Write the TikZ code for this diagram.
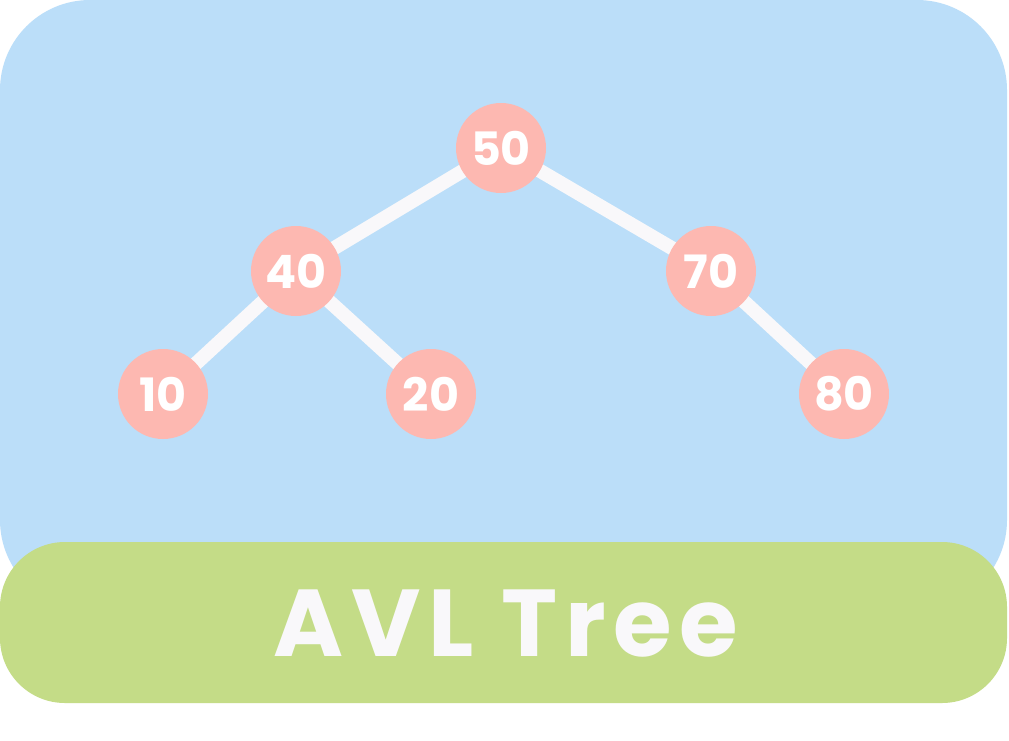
\documentclass[tikz,border=0pt]{standalone}
\usepackage{fontspec}
\setmainfont{Poppins}
\definecolor{bgblue}{HTML}{BBDEF9}
\definecolor{bggreen}{HTML}{C4DC87}
\definecolor{nodepink}{HTML}{FDB8B1}
\definecolor{offwhite}{HTML}{F9F8FA}
\pgfdeclarelayer{edgelayer}
\pgfdeclarelayer{bglayer}
\pgfsetlayers{bglayer,edgelayer,main}
\tikzset{
  treenode/.style={circle, fill=nodepink, minimum size=90pt, inner sep=0pt, text=white, font=\fontsize{46}{46}\selectfont\bfseries},
  treeedge/.style={draw=offwhite, line width=14pt},
}
\begin{document}
\begin{tikzpicture}[x=1pt,y=-1pt]
\useasboundingbox (0,0) rectangle (1009,740);
\begin{pgfonlayer}{bglayer}
\fill[white] (0,0) rectangle (1009,740);
\fill[bgblue, rounded corners=90pt] (0,0) rectangle (1007,610);
\end{pgfonlayer}
\node[treenode] (n50) at (501,148) {50};
\node[treenode] (n40) at (296,271) {40};
\node[treenode] (n70) at (711,271) {70};
\node[treenode] (n10) at (163,394) {10};
\node[treenode] (n20) at (431,394) {20};
\node[treenode] (n80) at (844,394) {80};
\begin{pgfonlayer}{edgelayer}
\path[treeedge] (n50.center) -- (n40.center);
\path[treeedge] (n50.center) -- (n70.center);
\path[treeedge] (n40.center) -- (n10.center);
\path[treeedge] (n40.center) -- (n20.center);
\path[treeedge] (n70.center) -- (n80.center);
\end{pgfonlayer}
\fill[bggreen, rounded corners=65pt] (0,542) rectangle (1007,703);
\node[text=offwhite, font=\fontsize{95}{95}\selectfont\bfseries\addfontfeature{LetterSpace=8}] (title) at (506,624) {AVL Tree};
\end{tikzpicture}
\end{document}
